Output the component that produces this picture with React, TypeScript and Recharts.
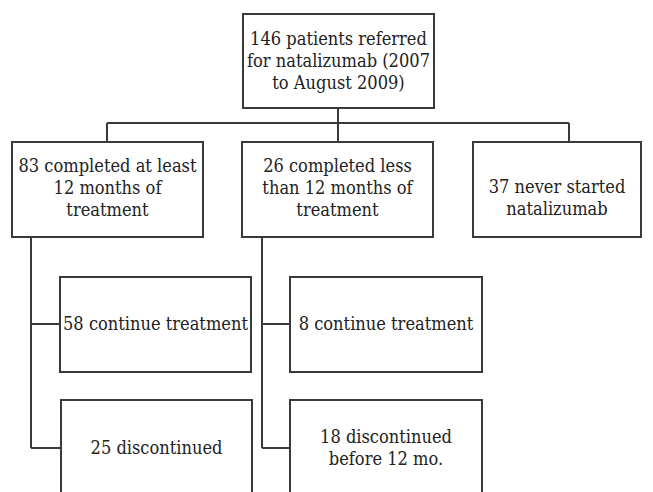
import { ComposedChart, XAxis, YAxis, ReferenceArea, ReferenceLine, Scatter } from 'recharts'

// counts in each box of the flow diagram
const referred = 146
const completed12 = 83
const completedLess = 26
const neverStarted = 37
const continue12 = 58
const continueLess = 8
const discontinued12 = 25
const discontinuedLess = 18

const boxLabels: string[][] = [
  [`${referred} patients referred`, 'for natalizumab (2007', 'to August 2009)'],
  [`${completed12} completed at least`, '12 months of', 'treatment'],
  [`${completedLess} completed less`, 'than 12 months of', 'treatment'],
  [`${neverStarted} never started`, 'natalizumab'],
  [`${continue12} continue treatment`],
  [`${continueLess} continue treatment`],
  [`${discontinued12} discontinued`],
  [`${discontinuedLess} discontinued`, 'before 12 mo.']
]

// layout of the boxes in page pixels: x1, x2, y1, y2
const boxLayout = [
  [243, 434, 14, 108],
  [12, 203, 142, 237],
  [242, 433, 142, 237],
  [473, 641, 142, 237],
  [60, 251, 277, 372],
  [290, 482, 277, 372],
  [61, 252, 400, 520],
  [290, 482, 400, 520]
]
// text centre y for each box
const textCenter = [61, 188, 188, 198, 324, 324, 448, 448]

// connector segments
const connectors = [
  [[338, 108], [338, 142]],
  [[107, 123], [569, 123]],
  [[107, 123], [107, 142]],
  [[569, 123], [569, 142]],
  [[31, 237], [31, 448]],
  [[31, 324], [60, 324]],
  [[31, 448], [61, 448]],
  [[262, 237], [262, 448]],
  [[262, 324], [290, 324]],
  [[262, 448], [290, 448]]
]

const frame = [{ x: 0, y: 0 }, { x: 653, y: 492 }]

const LINE = '#3a3a3a'
const FONT = 'DejaVu Serif'
// DejaVu Serif is wider than the Times face in the picture, squeeze it a bit
const SQUEEZE = 0.88

const BoxShape = (lines: string[], cy: number) => (props: any) => {
  const { x, y, width, height } = props
  const centre = y + (cy - props.y1Value) * (height / (props.y2Value - props.y1Value))
  const lh = 22
  const start = centre - ((lines.length - 1) * lh) / 2
  const cx = x + width / 2
  return (
    <g>
      <rect x={x} y={y} width={width} height={height} fill='#fff' stroke={LINE} strokeWidth={2} />
      <g transform={`translate(${cx} 0) scale(${SQUEEZE} 1) translate(${-cx} 0)`}>
        {lines.map((l, i) => (
          <text
            key={i}
            x={cx}
            y={start + i * lh}
            textAnchor='middle'
            dominantBaseline='central'
            fontFamily={FONT}
            fontSize={18.5}
            fill='#222'
          >
            {l}
          </text>
        ))}
      </g>
    </g>
  )
}

export default function App () {
  return (
    <div style={{ position: 'absolute', left: 0, top: 0, width: 653, height: 492, background: '#fff' }}>
      <ComposedChart width={653} height={492} margin={{ top: 0, right: 0, bottom: 0, left: 0 }} data={frame}>
        <XAxis type='number' dataKey='x' domain={[0, 653]} hide />
        <YAxis type='number' dataKey='y' domain={[0, 492]} reversed hide />
        <Scatter data={frame} dataKey='y' fill='none' isAnimationActive={false} />
        {connectors.map((s, i) => (
          <ReferenceLine
            key={'c' + i}
            segment={[{ x: s[0][0], y: s[0][1] }, { x: s[1][0], y: s[1][1] }]}
            stroke={LINE}
            strokeWidth={2}
            ifOverflow='visible'
          />
        ))}
        {boxLayout.map((b, i) => (
          <ReferenceArea
            key={'b' + i}
            x1={b[0]}
            x2={b[1]}
            y1={b[2]}
            y2={b[3]}
            ifOverflow='visible'
            shape={(p: any) => BoxShape(boxLabels[i], textCenter[i])({ ...p, y1Value: b[2], y2Value: b[3] })}
          />
        ))}
      </ComposedChart>
    </div>
  )
}
